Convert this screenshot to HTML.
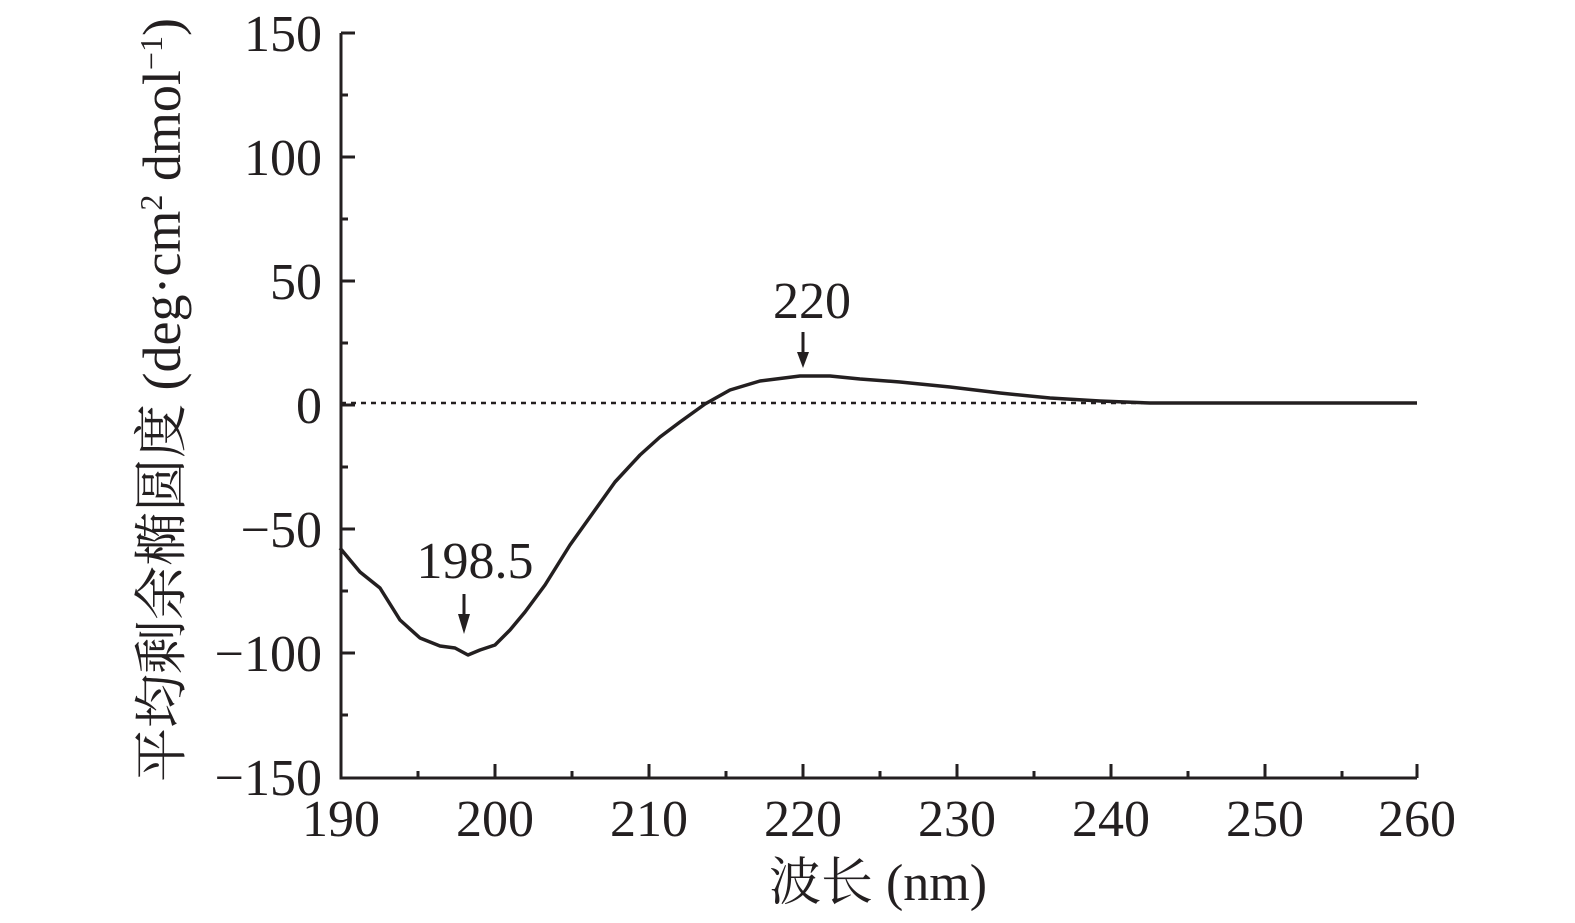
<!DOCTYPE html>
<html><head><meta charset="utf-8"><style>body{margin:0;background:#fff}svg{display:block}text{font-family:"Liberation Serif","Noto Serif CJK SC",serif;fill:#231f20}</style></head><body>
<svg width="1575" height="923" viewBox="0 0 1575 923">
<g stroke="#231f20" stroke-width="3" fill="none">
<path d="M341 33 V778 H1417"/>
<path d="M341 33h14M341 157h14M341 281h14M341 405h14M341 529h14M341 653h14M341 95h7M341 219h7M341 343h7M341 467h7M341 591h7M341 715h7"/>
<path d="M495 778v-14M649 778v-14M803 778v-14M957 778v-14M1111 778v-14M1265 778v-14M1417 778v-14M418 778v-7M572 778v-7M726 778v-7M880 778v-7M1034 778v-7M1188 778v-7M1342 778v-7"/>
<path d="M341 403H1417" stroke-dasharray="5 5" stroke-width="2.5"/>
<path d="M340 548 L360 572 L380 588 L400 620 L420 638 L440 646 L455 648 L468 655 L480 650 L495 645 L510 630 L525 612 L545 585 L570 545 L595 510 L615 482 L640 455 L660 437 L680 422 L705 404 L730 390 L760 381 L800 376 L830 376 L860 379 L900 382 L950 387 L1000 393 L1050 398 L1100 401 L1150 403 L1250 403 L1417 403" stroke-width="3.5" stroke-linejoin="round"/>
<path d="M464 594V618M803 332V356" stroke-width="3"/>
</g>
<path d="M458 614h12l-6 20z M797 352h12l-6 16z" fill="#231f20"/>
<g font-size="52" text-anchor="end">
<text x="322" y="51">150</text><text x="322" y="175">100</text><text x="322" y="299">50</text><text x="322" y="423">0</text>
<text x="322" y="547">−50</text><text x="322" y="671">−100</text><text x="322" y="795">−150</text>
</g>
<g font-size="52" text-anchor="middle">
<text x="341" y="836">190</text><text x="495" y="836">200</text><text x="649" y="836">210</text><text x="803" y="836">220</text><text x="957" y="836">230</text><text x="1111" y="836">240</text><text x="1265" y="836">250</text><text x="1417" y="836">260</text>
<text x="475" y="578">198.5</text><text x="812" y="318">220</text>
<text x="878" y="900">波长 (nm)</text>
<text font-size="54" transform="translate(180 400) rotate(-90)">平均剩余椭圆度 (deg·cm<tspan font-size="32" dy="-18">2</tspan><tspan dy="18"> dmol</tspan><tspan font-size="32" dy="-18">−1</tspan><tspan dy="18">)</tspan></text>
</g>
</svg>
</body></html>
